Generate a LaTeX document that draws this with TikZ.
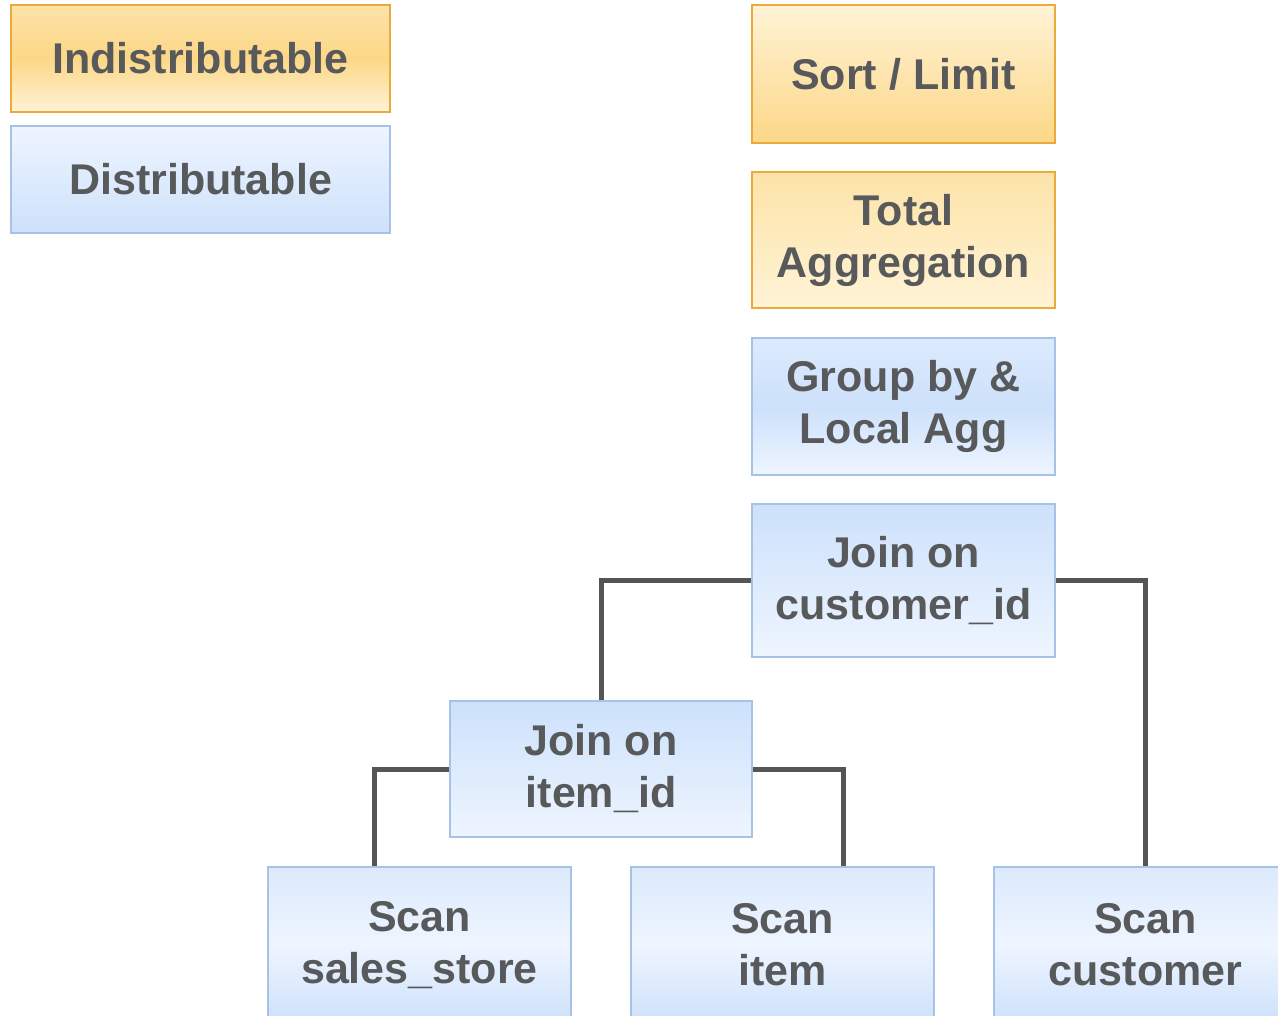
\documentclass[tikz,border=0pt]{standalone}
\usepackage{fontspec}
\setmainfont{Liberation Sans}
\usepackage{tikz}

\definecolor{txtgray}{HTML}{58595B}
\definecolor{linegray}{HTML}{555555}
\definecolor{orgline}{HTML}{EAAA3C}
\definecolor{orgdark}{HTML}{FCD787}
\definecolor{orgmid}{HTML}{FDE3A8}
\definecolor{orglight}{HTML}{FFF3D6}
\definecolor{bluline}{HTML}{A8C2E6}
\definecolor{bludark}{HTML}{CDE1FB}
\definecolor{blumid}{HTML}{DCEAFD}
\definecolor{blulight}{HTML}{EEF5FF}

\begin{document}
\begin{tikzpicture}[x=1pt,y=-1pt,
	box/.style={rectangle,line width=2pt,align=center,text=txtgray,
		font=\fontsize{43}{52}\selectfont\bfseries,inner sep=0pt},
	indist/.style={box,draw=orgline},
	dist/.style={box,draw=bluline},
	conn/.style={draw=linegray,line width=5pt}]
	\clip (0,0) rectangle (1278,1016);
	\fill[white] (0,0) rectangle (1278,1016);
	\node[indist,minimum width=379pt,minimum height=107pt,top color=orgmid,bottom color=orglight,middle color=orgdark] (ind) at (200.5,58.5) {Indistributable};
	\node[dist,minimum width=379pt,minimum height=107pt,top color=blulight,bottom color=bludark] (dis) at (200.5,179.5) {Distributable};
	\node[indist,minimum width=303pt,minimum height=138pt,top color=orglight,bottom color=orgdark] (sort) at (903.5,74) {Sort / Limit};
	\node[indist,minimum width=303pt,minimum height=136pt,top color=orgmid,bottom color=orglight] (tot) at (903.5,240) {Total\\Aggregation};
	\node[dist,minimum width=303pt,minimum height=137pt,top color=blumid,bottom color=blulight,middle color=bludark] (grp) at (903.5,406.5) {Group by \&\\Local Agg};
	\node[dist,minimum width=303pt,minimum height=153pt,top color=bludark,bottom color=blulight] (jc) at (903.5,580.5) {Join on\\customer\_id};
	\node[dist,minimum width=302pt,minimum height=136pt,top color=bludark,bottom color=blulight] (ji) at (601,769) {Join on\\item\_id};
	\node[dist,minimum width=303pt,minimum height=156pt,top color=blumid,bottom color=bludark,middle color=blulight] (ss) at (419.5,945) {Scan\\sales\_store};
	\node[dist,minimum width=303pt,minimum height=156pt,top color=blumid,bottom color=bludark,middle color=blulight] (si) at (782.5,945) {Scan\\item};
	\node[dist,minimum width=303pt,minimum height=156pt,top color=blumid,bottom color=bludark,middle color=blulight] (sc) at (1145.5,945) {Scan\\customer};
	\draw[conn] (jc.west) -| (ji.north);
	\draw[conn] (jc.east) -| (sc.north);
	\draw[conn] (ji.west) -| ([xshift=-45.5pt]ss.north);
	\draw[conn] (ji.east) -| ([xshift=60.5pt]si.north);
\end{tikzpicture}
\end{document}
